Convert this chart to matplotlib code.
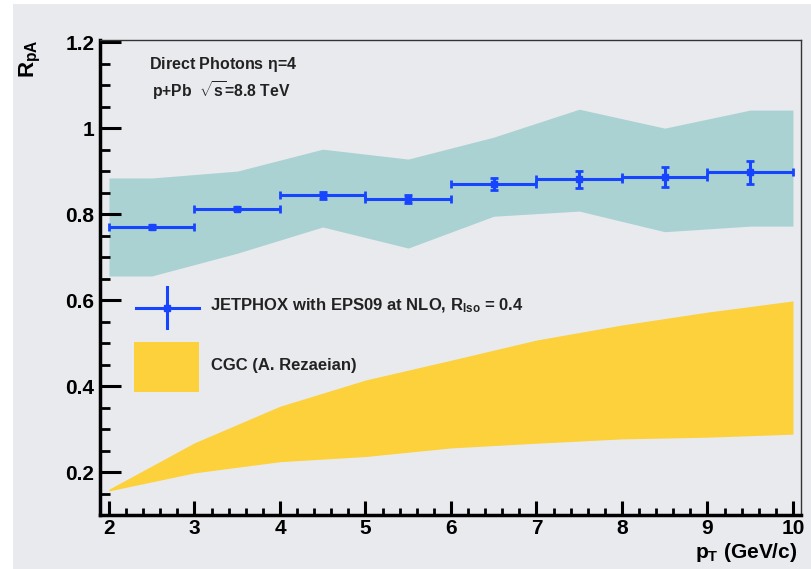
import numpy as np
import matplotlib.pyplot as plt
from matplotlib.patches import Rectangle
from matplotlib.ticker import MultipleLocator, FuncFormatter

plt.rcParams['font.family'] = ['Liberation Sans', 'DejaVu Sans']
plt.rcParams['font.weight'] = 'bold'
plt.rcParams['mathtext.fontset'] = 'custom'
plt.rcParams['mathtext.rm'] = 'Liberation Sans:bold'
plt.rcParams['mathtext.bf'] = 'Liberation Sans:bold'
plt.rcParams['mathtext.it'] = 'Liberation Sans:bold'

# JETPHOX + EPS09 points (bin centres, half-width 0.5)
pt = [2.5, 3.5, 4.5, 5.5, 6.5, 7.5, 8.5, 9.5]
rpa = [0.770, 0.813, 0.844, 0.835, 0.870, 0.881, 0.887, 0.897]
rpa_err = [0.004, 0.004, 0.008, 0.010, 0.013, 0.020, 0.023, 0.026]

# EPS09 uncertainty band
band_x = [2.0, 2.5, 3.5, 4.5, 5.5, 6.5, 7.5, 8.5, 9.5, 10.0]
band_hi = [0.884, 0.884, 0.900, 0.951, 0.928, 0.979, 1.044, 1.000, 1.042, 1.042]
band_lo = [0.656, 0.656, 0.709, 0.770, 0.721, 0.795, 0.807, 0.759, 0.772, 0.772]

# CGC band
cgc_x = [2, 3, 4, 5, 6, 7, 8, 9, 10]
cgc_hi = [0.160, 0.268, 0.353, 0.414, 0.460, 0.507, 0.542, 0.572, 0.598]
cgc_lo = [0.156, 0.198, 0.224, 0.236, 0.256, 0.267, 0.277, 0.281, 0.288]

blue = '#1745ff'
teal = '#aad2d2'
yellow = '#fcd13b'
W, H = 811, 569

fig = plt.figure(figsize=(W / 100, H / 100), dpi=100, facecolor='white')
fig.patches.append(Rectangle((13 / W, 0), 1, 1 - 4 / H, transform=fig.transFigure,
                             facecolor='#e9eaee', edgecolor='none', zorder=-10))
ax = fig.add_axes([100 / W, (H - 515) / H, 701 / W, 475 / H])
ax.set_facecolor('none')

ax.fill_between(band_x, band_lo, band_hi, color=teal, lw=0, zorder=1)
ax.fill_between(cgc_x, cgc_lo, cgc_hi, color=yellow, lw=0, zorder=1)
ax.errorbar(pt, rpa, xerr=0.5, yerr=rpa_err, fmt='s', ms=5, color=blue,
            elinewidth=2.2, capsize=3, capthick=2, zorder=3)

ax.set_xlim(1.895, 10.094)
ax.set_ylim(0.1, 1.205)

for side in ['left', 'bottom']:
    ax.spines[side].set_linewidth(2.5)
for side in ['top', 'right']:
    ax.spines[side].set_linewidth(1.0)
    ax.spines[side].set_color('#333333')

ax.xaxis.set_major_locator(MultipleLocator(1))
ax.xaxis.set_minor_locator(MultipleLocator(0.2))
ax.yaxis.set_major_locator(MultipleLocator(0.2))
ax.yaxis.set_minor_locator(MultipleLocator(0.05))
ax.yaxis.set_major_formatter(FuncFormatter(lambda v, p: '%g' % round(v, 2)))
ax.tick_params(axis='x', which='major', direction='in', length=10, width=2.2,
               labelsize=15, pad=3)
ax.tick_params(axis='x', which='minor', direction='in', length=5, width=2)
ax.tick_params(axis='y', which='major', direction='in', length=15, width=2.2,
               labelsize=15, pad=4)
ax.tick_params(axis='y', which='minor', direction='in', length=7.5, width=2)
for lab in ax.get_xticklabels() + ax.get_yticklabels():
    lab.set_fontweight('bold')

ax.text(0.0699, 0.949, r'Direct Photons $\eta$=4', transform=ax.transAxes,
        fontsize=11.5, fontweight='bold', va='center', color='#222222')
ax.text(0.0742, 0.8926, r'p+Pb  $\sqrt{\mathrm{s}}$=8.8 TeV', transform=ax.transAxes,
        fontsize=11.3, fontweight='bold', va='center', color='#222222')

# legend drawn by hand
ax.plot([0.0514, 0.1412], [0.4358, 0.4358], color=blue, lw=2.2, transform=ax.transAxes)
ax.plot([0.0956, 0.0956], [0.3937, 0.48], color=blue, lw=2.2, transform=ax.transAxes)
ax.plot([0.0956], [0.4358], 's', ms=4, color=blue, transform=ax.transAxes)
ax.add_patch(Rectangle((0.0485, 0.259), 0.0927, 0.105, transform=ax.transAxes,
                       facecolor=yellow, edgecolor='none'))
ax.text(0.157, 0.44, r'JETPHOX with EPS09 at NLO, R$_{\mathrm{Iso}}$ = 0.4',
        transform=ax.transAxes, fontsize=12, fontweight='bold', va='center', color='#222222')
ax.text(0.159, 0.3137, 'CGC (A. Rezaeian)', transform=ax.transAxes,
        fontsize=12, fontweight='bold', va='center', color='#222222')

fig.text(797 / W, (H - 552) / H, r'p$_{\mathrm{T}}$ (GeV/c)', ha='right', va='center',
         fontsize=15, fontweight='bold')
fig.text(30 / W, (H - 39) / H, r'R$_{\mathrm{pA}}$', ha='center', va='top',
         rotation=90, fontsize=16, fontweight='bold')

fig.savefig('out.png', dpi=100, facecolor=fig.get_facecolor())
